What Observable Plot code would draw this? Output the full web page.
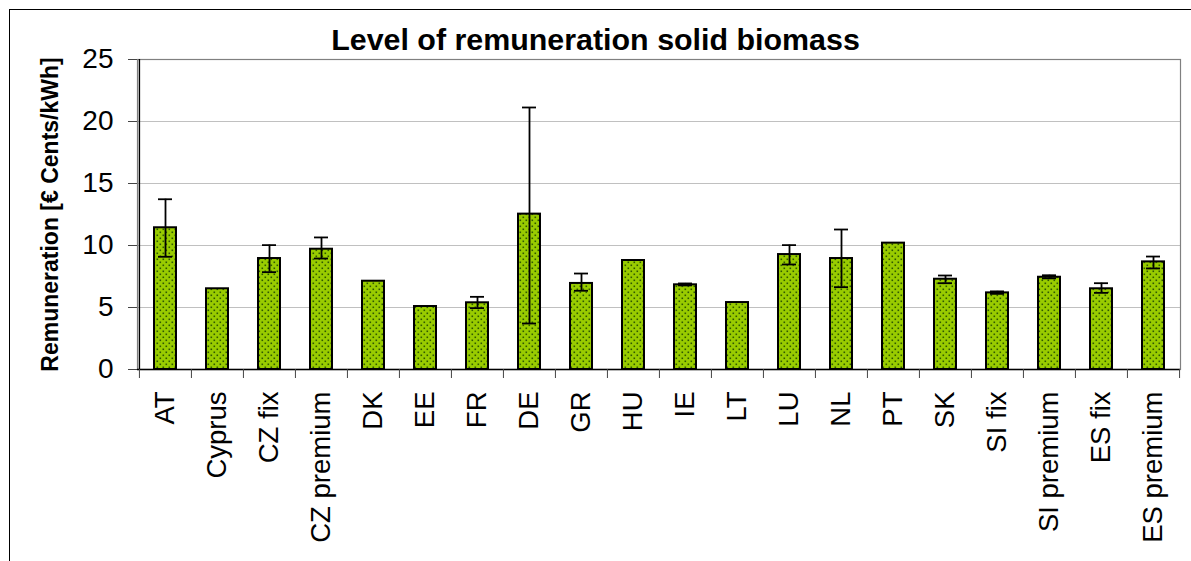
<!DOCTYPE html>
<html>
<head>
<meta charset="utf-8">
<script src="https://cdn.jsdelivr.net/npm/d3@7"></script>
<script src="https://cdn.jsdelivr.net/npm/@observablehq/plot@0.6"></script>
<style>
  html, body { margin: 0; padding: 0; background: #fff; }
  #wrap { position: relative; width: 1191px; height: 561px; overflow: hidden; font-family: "Liberation Sans", Arial, sans-serif; }
  #frame { position: absolute; left: 9px; top: 9px; width: 1300px; height: 700px; border: 1px solid #000; box-sizing: border-box; }
  #title { position: absolute; left: 0; top: 21.3px; width: 1191px; text-align: center; font-size: 30.4px; font-weight: bold; line-height: 36px; color: #000; }
  #chart { position: absolute; left: 0; top: 0; }
</style>
</head>
<body>
<div id="wrap">
  <div id="frame"></div>
  <div id="chart"></div>
  <div id="title">Level of remuneration solid biomass</div>
</div>
<script>
const categories = ["AT", "Cyprus", "CZ fix", "CZ premium", "DK", "EE", "FR", "DE", "GR", "HU", "IE", "LT", "LU", "NL", "PT", "SK", "SI fix", "SI premium", "ES fix", "ES premium"];
const values     = [11.43, 6.51, 8.95, 9.70, 7.12, 5.08, 5.38, 12.53, 6.94, 8.79, 6.83, 5.40, 9.27, 8.95, 10.19, 7.28, 6.18, 7.44, 6.51, 8.68];
const errLow     = [9.09, null, 7.85, 8.95, null, null, 4.95, 3.71, 6.35, null, 6.78, null, 8.47, 6.64, null, 6.96, 6.10, 7.35, 6.18, 8.15];
const errHigh    = [13.73, null, 10.03, 10.65, null, null, 5.86, 21.13, 7.74, null, 6.94, null, 10.03, 11.29, null, 7.58, 6.30, 7.60, 6.96, 9.11];
const yTicks     = [0, 5, 10, 15, 20, 25];
const gridTicks  = [5, 10, 15, 20];
const yLabel     = "Remuneration [€ Cents/kWh]";

const data = categories.map((c, i) => ({cat: c, value: values[i], low: errLow[i], high: errHigh[i]}));
const errData = data.filter(d => d.low != null && d.high != null);

const W = 1191, H = 561, mL = 137, mR = 11, mT = 59, mB = 192;
const half = (W - mL - mR) / categories.length / 2;

const chart = Plot.plot({
  width: W, height: H,
  marginLeft: mL, marginRight: mR, marginTop: mT, marginBottom: mB,
  style: {fontFamily: "'Liberation Sans', Arial, sans-serif", color: "#000", background: "transparent", overflow: "visible"},
  x: {domain: categories, paddingInner: 0.58, paddingOuter: 0.29, axis: null},
  y: {domain: [0, 25], axis: null},
  marks: [
    Plot.gridY(gridTicks, {stroke: "#c0c0c0", strokeOpacity: 1, strokeWidth: 1}),
    Plot.frame({stroke: "#808080", strokeWidth: 1.2}),
    Plot.barY(data, {x: "cat", y: "value", fill: "url(#dots)", stroke: "#000", strokeWidth: 2}),
    Plot.ruleX(errData, {x: "cat", y1: "low", y2: "high", stroke: "#000", strokeWidth: 1.8}),
    Plot.tickY(errData, {x: "cat", y: "low", insetLeft: 4, insetRight: 4, stroke: "#000", strokeWidth: 1.8}),
    Plot.tickY(errData, {x: "cat", y: "high", insetLeft: 4, insetRight: 4, stroke: "#000", strokeWidth: 1.8}),
    Plot.ruleY([0], {stroke: "#000", strokeWidth: 1.4}),
    Plot.ruleX([categories[0]], {dx: -half, stroke: "#000", strokeWidth: 1.4}),
    Plot.axisY(yTicks, {tickSize: 9, tickPadding: 15, fontSize: 28, label: null, stroke: "#444"}),
    Plot.axisX(categories, {tickSize: 9, dx: -half, tickFormat: () => "", label: null, stroke: "#444"}),
    Plot.axisX([categories[categories.length - 1]], {tickSize: 9, dx: half, tickFormat: () => "", label: null, stroke: "#444"}),
    Plot.axisX(categories, {tickSize: 0, tickPadding: 22, tickRotate: -90, fontSize: 27.5, label: null}),
    Plot.text([yLabel], {frameAnchor: "left", textAnchor: "middle", dx: -87, rotate: -90, fontSize: 23, fontWeight: "bold", fill: "#000"})
  ]
});

const ns = "http://www.w3.org/2000/svg";
const defs = document.createElementNS(ns, "defs");
defs.innerHTML = '<pattern id="dots" width="6" height="6" patternUnits="userSpaceOnUse">' +
  '<rect width="6" height="6" fill="#99cc00"/>' +
  '<rect x="0.5" y="0.5" width="1.6" height="1.6" fill="#2f5a00"/>' +
  '<rect x="3.5" y="3.5" width="1.6" height="1.6" fill="#2f5a00"/>' +
  '</pattern>';
chart.insertBefore(defs, chart.firstChild);
document.getElementById("chart").appendChild(chart);
</script>
</body>
</html>
